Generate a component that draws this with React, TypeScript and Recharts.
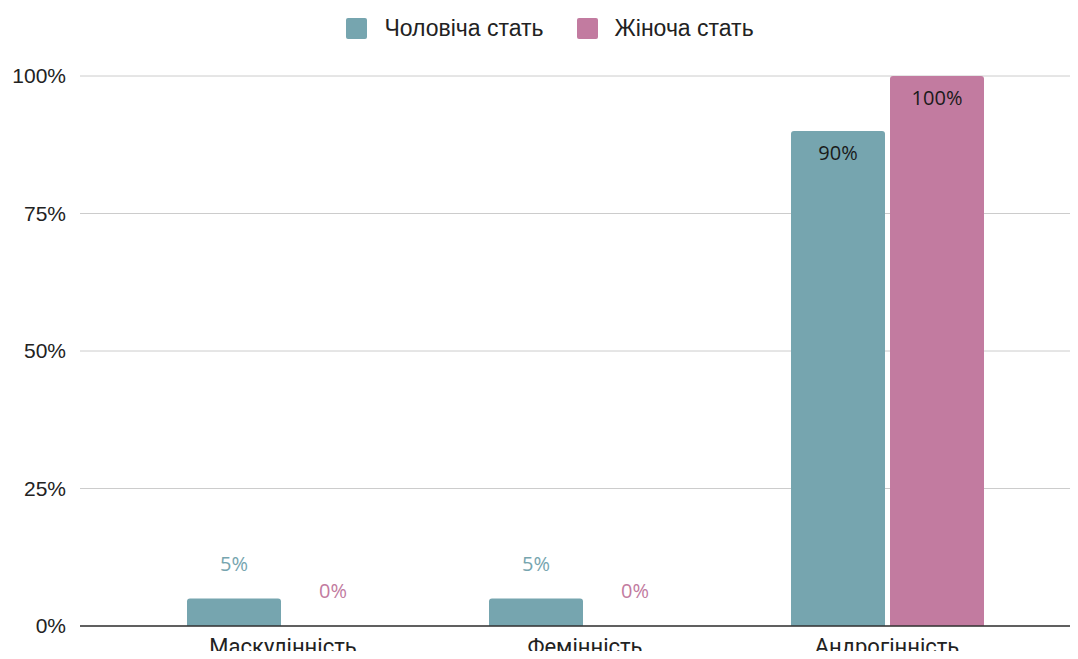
import { BarChart, Bar, XAxis, YAxis, CartesianGrid, LabelList } from "recharts";

const categories = ["Маскулінність", "Фемінність", "Андрогінність"];
const maleValues = [0.05, 0.05, 0.9];
const femaleValues = [0, 0, 1];
const yTicks = [0, 0.25, 0.5, 0.75, 1];

const MALE = "#76a5af";
const FEMALE = "#c27ba0";
const ROBOTO = "Roboto, 'Noto Sans', sans-serif";
const ARIAL = "'Liberation Sans', Arial, sans-serif";
const LABEL_FONT = "'Open Sans', 'Noto Sans', sans-serif";

const data = categories.map((name, i) => ({ name, male: maleValues[i], female: femaleValues[i] }));

const pct = (v: number) => `${Math.round(v * 100)}%`;

function makeLabel(color: string) {
  return (props: any) => {
    const { x, y, width, value } = props;
    const inside = value >= 0.5;
    const ty = inside ? y + 21 : y - 35;
    return (
      <text
        x={x + width / 2}
        y={ty}
        textAnchor="middle"
        dominantBaseline="central"
        fontFamily={LABEL_FONT}
        fontSize={20}
        fill={inside ? "#1a1a1a" : color}
      >
        {pct(value)}
      </text>
    );
  };
}

function LegendBox() {
  const items = [
    { label: "Чоловіча стать", color: MALE },
    { label: "Жіноча стать", color: FEMALE },
  ];
  return (
    <div
      style={{
        position: "absolute",
        top: 16,
        left: 0,
        width: 1100,
        display: "flex",
        justifyContent: "center",
        gap: 33,
        fontFamily: ARIAL,
        fontSize: 23,
        color: "#222",
        lineHeight: "24px",
      }}
    >
      {items.map((it) => (
        <div key={it.label} style={{ display: "flex", alignItems: "center", gap: 17 }}>
          <span style={{ width: 21, height: 21, background: it.color, borderRadius: 2, display: "inline-block" }} />
          <span>{it.label}</span>
        </div>
      ))}
    </div>
  );
}

export default function App() {
  return (
    <div style={{ margin: -8, width: 1078, height: 659, background: "#fff", position: "relative" }}>
      <LegendBox />
      <BarChart
        width={1078}
        height={659}
        data={data}
        margin={{ top: 76, right: 0, bottom: 0, left: 0 }}
        barGap={5}
        barSize={94}
      >
        <CartesianGrid vertical={false} stroke="#cccccc" />
        <XAxis
          dataKey="name"
          height={33}
          padding={{ left: 52, right: 40 }}
          tickLine={false}
          axisLine={{ stroke: "#333333", strokeWidth: 1.5 }}
          tick={{ fill: "#222", fontSize: 22, fontFamily: ROBOTO }}
          tickMargin={6}
        />
        <YAxis
          width={80}
          domain={[0, 1]}
          ticks={yTicks}
          tickFormatter={pct}
          axisLine={false}
          tickLine={false}
          tickMargin={8}
          tick={{ fill: "#222", fontSize: 21, fontFamily: ARIAL }}
        />
        <Bar dataKey="male" fill={MALE} radius={[3, 3, 0, 0]} isAnimationActive={false}>
          <LabelList dataKey="male" content={makeLabel(MALE)} />
        </Bar>
        <Bar dataKey="female" fill={FEMALE} radius={[3, 3, 0, 0]} minPointSize={0.01} isAnimationActive={false}>
          <LabelList dataKey="female" content={makeLabel(FEMALE)} />
        </Bar>
      </BarChart>
    </div>
  );
}
